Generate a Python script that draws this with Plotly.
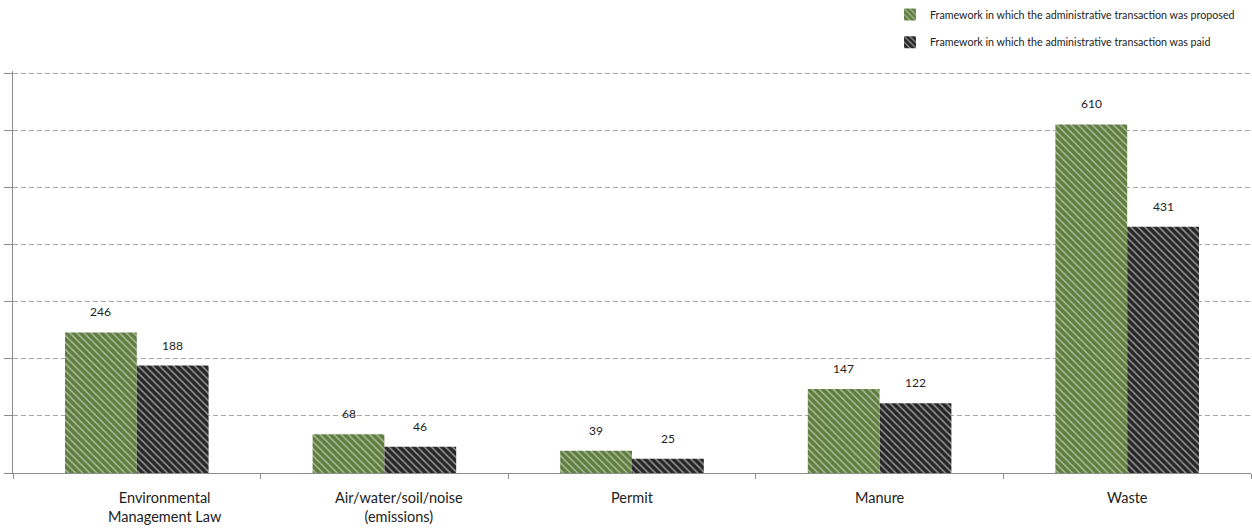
import plotly.graph_objects as go

categories = ["Environmental Management Law", "Air/water/soil/noise (emissions)", "Permit", "Manure", "Waste"]
cat_labels = ["Environmental<br>Management Law", "Air/water/soil/noise<br>(emissions)", "Permit", "Manure", "Waste"]
label_shift = [28, 15, 0, 0, 0]
proposed = [246, 68, 39, 147, 610]
paid = [188, 46, 25, 122, 431]
series_names = ["Framework in which the administrative transaction was proposed",
                "Framework in which the administrative transaction was paid"]

FONT = "Lato"
green = "#5E7D3E"
dark = "#262626"
xs = list(range(len(categories)))

fig = go.Figure()
fig.add_bar(x=xs, y=proposed, name=series_names[0], legend="legend", showlegend=True,
            marker=dict(color=green, line=dict(width=0),
                        pattern=dict(shape="\\", fgcolor="#F4F6F0", bgcolor=green, size=5, solidity=0.32)))
fig.add_bar(x=xs, y=paid, name=series_names[1], legend="legend2", showlegend=True,
            marker=dict(color=dark, line=dict(width=0),
                        pattern=dict(shape="\\", fgcolor="#FFFFFF", bgcolor=dark, size=5, solidity=0.32)))

w = 0.29
for i in xs:
    fig.add_annotation(x=i - w / 2, y=proposed[i], text=str(proposed[i]), showarrow=False,
                       yanchor="bottom", yshift=11, font=dict(family=FONT, size=12, color="#222"))
    fig.add_annotation(x=i + w / 2, y=paid[i], text=str(paid[i]), showarrow=False,
                       yanchor="bottom", yshift=11, font=dict(family=FONT, size=12, color="#222"))
    fig.add_annotation(x=i, y=0, text=cat_labels[i], showarrow=False, yanchor="top",
                       yshift=-14, xshift=label_shift[i],
                       font=dict(family=FONT, size=14.5, color="#222"))

fig.update_layout(
    width=1252, height=532,
    showlegend=True,
    margin=dict(l=13, r=1, t=70, b=59),
    plot_bgcolor="white", paper_bgcolor="white",
    barmode="group", bargap=0.42, bargroupgap=0,
    font=dict(family=FONT, size=11, color="#222"),
    xaxis=dict(range=[-0.5, 4.5], tickvals=[-0.5, 0.5, 1.5, 2.5, 3.5, 4.5], showticklabels=False,
               ticks="outside", ticklen=5, tickcolor="#8C8C8C", showgrid=False,
               showline=True, linecolor="#8C8C8C", linewidth=1, zeroline=False),
    yaxis=dict(range=[0, 703.5], tickvals=[0, 100, 200, 300, 400, 500, 600, 700], showticklabels=False,
               ticks="outside", ticklen=8,
               tickcolor="#8C8C8C", showgrid=True, gridcolor="#A6A6A6", griddash="5px,3px",
               gridwidth=1, showline=True, linecolor="#8C8C8C", linewidth=1, zeroline=False),
    legend=dict(x=0.7084, y=1.138, xanchor="left", yanchor="middle", bgcolor="rgba(0,0,0,0)",
                font=dict(family=FONT, size=10.7, color="#222"), itemwidth=30, visible=True),
    legend2=dict(x=0.7084, y=1.069, xanchor="left", yanchor="middle", bgcolor="rgba(0,0,0,0)",
                 font=dict(family=FONT, size=10.7, color="#222"), itemwidth=30, visible=True),
)
fig.write_html("out.html")
